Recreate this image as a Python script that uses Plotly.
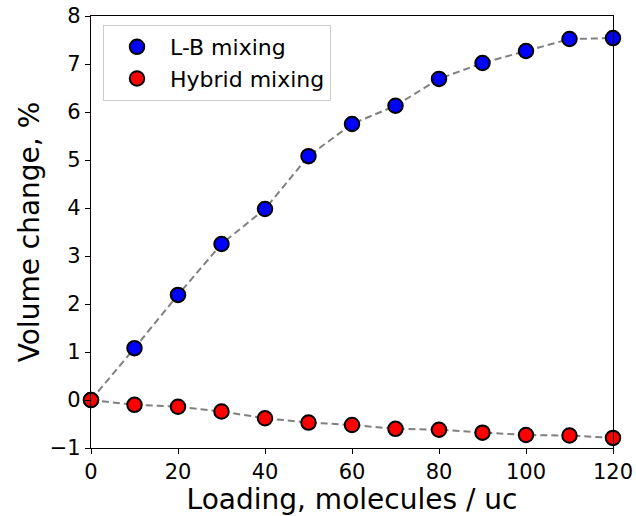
import plotly.graph_objects as go

loading = [0, 10, 20, 30, 40, 50, 60, 70, 80, 90, 100, 110, 120]
lb_mixing = [0, 1.08, 2.19, 3.25, 3.98, 5.08, 5.75, 6.13, 6.69, 7.02, 7.27, 7.52, 7.54]
hybrid_mixing = [0, -0.10, -0.14, -0.24, -0.38, -0.47, -0.52, -0.60, -0.62, -0.68, -0.73, -0.74, -0.79]

font = "DejaVu Sans"
fig = go.Figure()
for name, ys, col in [("L-B mixing", lb_mixing, "#0000ff"), ("Hybrid mixing", hybrid_mixing, "#ff0000")]:
    fig.add_trace(go.Scatter(x=loading, y=ys, mode="lines", showlegend=False,
                             line=dict(color="gray", width=2, dash="7px,4px"), cliponaxis=False))
for name, ys, col in [("L-B mixing", lb_mixing, "#0000ff"), ("Hybrid mixing", hybrid_mixing, "#ff0000")]:
    fig.add_trace(go.Scatter(x=loading, y=ys, mode="markers", name=name,
                             marker=dict(color=col, size=14.5, line=dict(color="black", width=2)),
                             cliponaxis=False))

axis_common = dict(showline=True, linecolor="black", linewidth=1.2, mirror=True,
                   ticks="outside", ticklen=5, tickcolor="black", tickwidth=1.2,
                   showgrid=False, zeroline=False, automargin=False,
                   tickfont=dict(family=font, size=21, color="black"))
fig.update_layout(
    width=636, height=516,
    margin=dict(l=91, r=23, t=16, b=68),
    plot_bgcolor="white", paper_bgcolor="white",
    font=dict(family=font, color="black"),
    xaxis=dict(range=[0, 120], tickvals=[0, 20, 40, 60, 80, 100, 120],
               title=dict(text="Loading, molecules / uc", font=dict(family=font, size=28), standoff=4),
               **axis_common),
    yaxis=dict(range=[-1, 8], tickvals=list(range(-1, 9)),
               title=dict(text="Volume change, %", font=dict(family=font, size=28), standoff=1),
               **axis_common),
    legend=dict(x=0.023, y=0.979, xanchor="left", yanchor="top",
                bgcolor="white", bordercolor="#cccccc", borderwidth=1,
                font=dict(family=font, size=22), itemsizing="trace", itemwidth=56,
                tracegroupgap=2),
)
fig.write_html("out.html", config={"displayModeBar": False},
               post_script="document.body.style.margin='0';document.body.style.overflow='hidden';")
